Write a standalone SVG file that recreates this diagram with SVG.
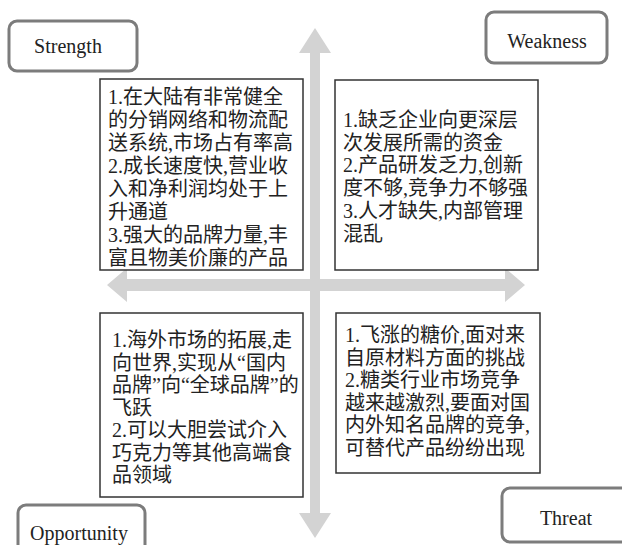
<svg xmlns="http://www.w3.org/2000/svg" width="622" height="545" viewBox="0 0 622 545">
<style>
.lbl{fill:#fff;stroke:#7c7c7c;stroke-width:3}
.lt{font-family:"Liberation Serif","DejaVu Serif",serif;font-size:20px;fill:#222;text-anchor:middle}
.box{fill:#fff;stroke:#333;stroke-width:1.5}
.ct{font-family:"Liberation Serif","Noto Sans CJK SC",serif;font-size:20px;fill:#222}
.arr{fill:#d3d3d3}
</style>
<rect width="622" height="545" fill="#fff"/>
<g id="connectors">
<polygon class="arr" points="310,53 299,53 315,28 331,53 320,53 320,513 331,513 315,538 299,513 310,513"/>
<polygon class="arr" points="127,279 127,268 107,285 127,302 127,291 505,291 505,302 525,285 505,268 505,279"/>
</g>
<g id="strength-label">
<rect class="lbl" x="9" y="21" width="128" height="50" rx="8"/>
<text class="lt" x="68" y="53">Strength</text>
</g>
<g id="weakness-label">
<rect class="lbl" x="486" y="12" width="121" height="51" rx="8"/>
<text class="lt" x="547" y="48">Weakness</text>
</g>
<g id="opportunity-label">
<rect class="lbl" x="18" y="505" width="127" height="55" rx="8"/>
<text class="lt" x="79" y="540">Opportunity</text>
</g>
<g id="threat-label">
<rect class="lbl" x="502" y="488" width="130" height="54" rx="8"/>
<text class="lt" x="566" y="525">Threat</text>
</g>
<g id="strength">
<rect class="box" x="100" y="79" width="203" height="191"/>
<text class="ct" x="108" y="104">1.在大陆有非常健全</text>
<text class="ct" x="108" y="127">的分销网络和物流配</text>
<text class="ct" x="108" y="150">送系统,市场占有率高</text>
<text class="ct" x="108" y="173">2.成长速度快,营业收</text>
<text class="ct" x="108" y="196">入和净利润均处于上</text>
<text class="ct" x="108" y="219">升通道</text>
<text class="ct" x="108" y="242">3.强大的品牌力量,丰</text>
<text class="ct" x="108" y="265">富且物美价廉的产品</text>
</g>
<g id="weakness">
<rect class="box" x="335" y="80" width="203" height="190"/>
<text class="ct" x="343" y="127">1.缺乏企业向更深层</text>
<text class="ct" x="343" y="149.7">次发展所需的资金</text>
<text class="ct" x="343" y="172.4">2.产品研发乏力,创新</text>
<text class="ct" x="343" y="195.1">度不够,竞争力不够强</text>
<text class="ct" x="343" y="217.8">3.人才缺失,内部管理</text>
<text class="ct" x="343" y="240.5">混乱</text>
</g>
<g id="opportunity">
<rect class="box" x="100" y="313" width="203" height="184"/>
<text class="ct" x="112" y="347">1.海外市场的拓展,走</text>
<text class="ct" x="112" y="369.5">向世界,实现从“国内</text>
<text class="ct" x="112" y="392">品牌”向“全球品牌”的</text>
<text class="ct" x="112" y="414.5">飞跃</text>
<text class="ct" x="112" y="437">2.可以大胆尝试介入</text>
<text class="ct" x="112" y="459.5">巧克力等其他高端食</text>
<text class="ct" x="112" y="482">品领域</text>
</g>
<g id="threat">
<rect class="box" x="336" y="313" width="204" height="160"/>
<text class="ct" x="345" y="342">1.飞涨的糖价,面对来</text>
<text class="ct" x="345" y="364.6">自原材料方面的挑战</text>
<text class="ct" x="345" y="387.2">2.糖类行业市场竞争</text>
<text class="ct" x="345" y="409.8">越来越激烈,要面对国</text>
<text class="ct" x="345" y="432.4">内外知名品牌的竞争,</text>
<text class="ct" x="345" y="455">可替代产品纷纷出现</text>
</g>
</svg>
